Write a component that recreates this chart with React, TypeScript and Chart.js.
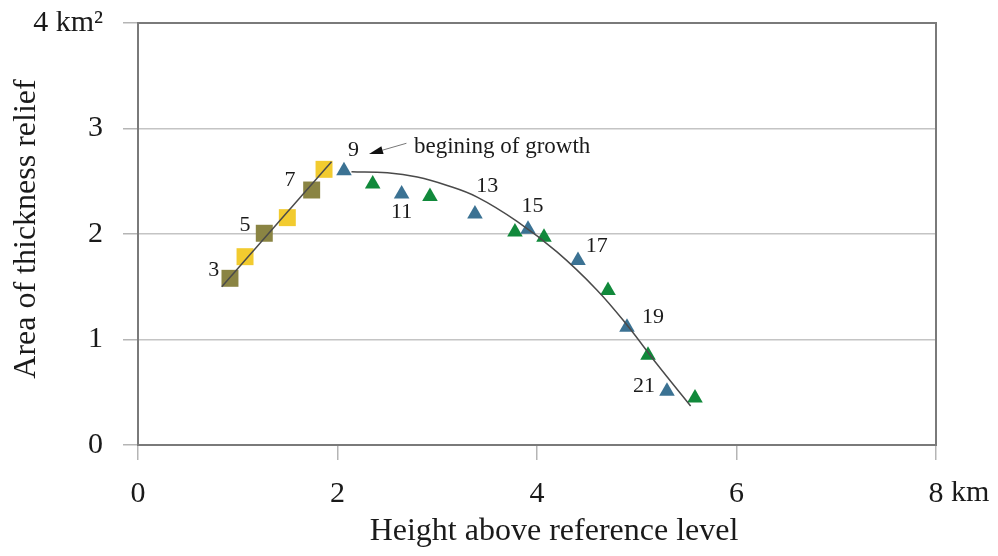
import React, { useEffect, useRef } from 'react';
import { Chart, registerables } from 'chart.js';

Chart.register(...registerables);

// ---- data ----
const oliveX = [0.922, 1.266, 1.741];
const oliveY = [1.58, 2.007, 2.417];
const yellowX = [1.073, 1.497, 1.865];
const yellowY = [1.785, 2.155, 2.613];

const blueX = [2.065, 2.643, 3.378, 3.91, 4.411, 4.902, 5.303];
const blueY = [2.6, 2.38, 2.19, 2.045, 1.75, 1.115, 0.51];
const greenX = [2.353, 2.927, 3.779, 4.07, 4.712, 5.113, 5.584];
const greenY = [2.475, 2.355, 2.02, 1.97, 1.465, 0.85, 0.445];

const lineX = [0.84, 1.94];
const lineY = [1.5, 2.685];

const curveX = [2.14, 2.5, 2.8, 3.1, 3.4, 3.8, 4.2, 4.6, 4.9, 5.2, 5.54];
const curveY = [2.59, 2.58, 2.54, 2.46, 2.35, 2.12, 1.83, 1.47, 1.14, 0.77, 0.37];

const pointLabelText = ['3', '5', '7', '9', '11', '13', '15', '17', '19', '21'];
const pointLabelX = [0.76, 1.073, 1.524, 2.16, 2.643, 3.5, 3.955, 4.6, 5.163, 5.073];
const pointLabelY = [1.66, 2.085, 2.512, 2.796, 2.209, 2.455, 2.26, 1.886, 1.215, 0.559];

const noteText = 'begining of growth';
const noteX = 2.767;
const noteY = 2.827;
const arrowFromX = 2.691;
const arrowFromY = 2.86;
const arrowToX = 2.316;
const arrowToY = 2.758;

const xTicks = [0, 2, 4, 6, 8];
const yTicks = [0, 1, 2, 3, 4];
const xUnit = 'km';
const yTopLabel = '4 km²';
const xTitle = 'Height above reference level';
const yTitle = 'Area of thickness relief';

const FONT = '"Liberation Serif", "Times New Roman", serif';
const TEXT = '#1a1a1a';

const pts = (xs: number[], ys: number[]) => xs.map((x, i) => ({ x, y: ys[i] }));

export default function App() {
  const ref = useRef<HTMLCanvasElement | null>(null);

  useEffect(() => {
    document.body.style.margin = '0';
    const canvas = ref.current;
    if (!canvas) return;

    const overlay = {
      id: 'overlay',
      afterDatasetsDraw(chart: any) {
        const ctx = chart.ctx;
        const xs = chart.scales.x;
        const ys = chart.scales.y;
        const ca = chart.chartArea;
        ctx.save();
        // frame
        ctx.strokeStyle = '#7a7a7a';
        ctx.lineWidth = 2;
        ctx.strokeRect(ca.left, ca.top, ca.right - ca.left, ca.bottom - ca.top);

        // point labels
        ctx.fillStyle = TEXT;
        ctx.font = `22px ${FONT}`;
        ctx.textAlign = 'center';
        ctx.textBaseline = 'middle';
        pointLabelText.forEach((t, i) => {
          ctx.fillText(t, xs.getPixelForValue(pointLabelX[i]), ys.getPixelForValue(pointLabelY[i]));
        });

        // note
        ctx.textAlign = 'left';
        ctx.font = `23px ${FONT}`;
        ctx.fillText(noteText, xs.getPixelForValue(noteX), ys.getPixelForValue(noteY));

        // arrow
        const x1 = xs.getPixelForValue(arrowFromX);
        const y1 = ys.getPixelForValue(arrowFromY);
        const x2 = xs.getPixelForValue(arrowToX);
        const y2 = ys.getPixelForValue(arrowToY);
        const ang = Math.atan2(y2 - y1, x2 - x1);
        const hl = 14;
        const hw = 4;
        const bx = x2 - Math.cos(ang) * hl;
        const by = y2 - Math.sin(ang) * hl;
        ctx.strokeStyle = '#777';
        ctx.lineWidth = 1;
        ctx.beginPath();
        ctx.moveTo(x1, y1);
        ctx.lineTo(bx, by);
        ctx.stroke();
        ctx.fillStyle = '#111';
        ctx.beginPath();
        ctx.moveTo(x2, y2);
        ctx.lineTo(bx + Math.sin(ang) * hw, by - Math.cos(ang) * hw);
        ctx.lineTo(bx - Math.sin(ang) * hw, by + Math.cos(ang) * hw);
        ctx.closePath();
        ctx.fill();

        // x unit after the last tick
        ctx.font = `30px ${FONT}`;
        ctx.fillStyle = TEXT;
        ctx.textAlign = 'left';
        ctx.textBaseline = 'middle';
        const lastX = xs.getPixelForValue(xTicks[xTicks.length - 1]);
        const w8 = ctx.measureText(String(xTicks[xTicks.length - 1])).width;
        ctx.fillText(' ' + xUnit, lastX + w8 / 2, ca.bottom + 48);

        // axis titles
        ctx.font = `32px ${FONT}`;
        ctx.textAlign = 'center';
        ctx.fillText(xTitle, (ca.left + ca.right) / 2 + 17, ca.bottom + 87);
        ctx.save();
        ctx.translate(27, (ca.top + ca.bottom) / 2 - 5);
        ctx.rotate(-Math.PI / 2);
        ctx.fillText(yTitle, 0, 0);
        ctx.restore();
        ctx.restore();
      },
    };

    const chart = new Chart(canvas, {
      type: 'scatter',
      data: {
        datasets: [
          {
            label: 'fit line',
            type: 'line',
            data: pts(lineX, lineY),
            borderColor: '#4a4a4a',
            borderWidth: 1.5,
            pointRadius: 0,
            fill: false,
            showLine: true,
            order: 0,
          },
          {
            label: 'fit curve',
            type: 'line',
            data: pts(curveX, curveY),
            borderColor: '#4a4a4a',
            borderWidth: 1.5,
            pointRadius: 0,
            tension: 0.4,
            fill: false,
            showLine: true,
            order: 0,
          },
          {
            label: 'olive',
            data: pts(oliveX, oliveY),
            pointStyle: 'rect',
            pointRadius: 12,
            backgroundColor: '#8a8443',
            borderColor: '#8a8443',
            borderWidth: 0,
            order: 1,
          },
          {
            label: 'yellow',
            data: pts(yellowX, yellowY),
            pointStyle: 'rect',
            pointRadius: 12,
            backgroundColor: '#f2cb2f',
            borderColor: '#f2cb2f',
            borderWidth: 0,
            order: 1,
          },
          {
            label: 'blue',
            data: pts(blueX, blueY),
            pointStyle: 'triangle',
            pointRadius: 9,
            backgroundColor: '#3b7293',
            borderColor: '#3b7293',
            borderWidth: 0,
            order: 1,
          },
          {
            label: 'green',
            data: pts(greenX, greenY),
            pointStyle: 'triangle',
            pointRadius: 9,
            backgroundColor: '#11893b',
            borderColor: '#11893b',
            borderWidth: 0,
            order: 1,
          },
        ],
      },
      options: {
        animation: false,
        responsive: false,
        maintainAspectRatio: false,
        layout: { padding: { top: 23, right: 62, bottom: 0, left: 0 } },
        plugins: {
          legend: { display: false },
          tooltip: { enabled: false },
        },
        scales: {
          x: {
            type: 'linear',
            min: 0,
            max: 8,
            afterBuildTicks: (s: any) => {
              s.ticks = xTicks.map((v) => ({ value: v }));
            },
            afterFit: (s: any) => {
              s.height = 111;
              s.paddingLeft = 0;
              s.paddingRight = 0;
            },
            ticks: {
              color: TEXT,
              font: { family: FONT, size: 30 },
              padding: 16,
              maxRotation: 0,
              callback: (v: any) => String(v),
            },
            grid: {
              drawOnChartArea: false,
              drawTicks: true,
              tickLength: 15,
              tickColor: '#b5b5b5',
              lineWidth: 1.5,
            },
            border: { display: true, color: '#7a7a7a', width: 2 },
            title: { display: false, text: xTitle },
          },
          y: {
            type: 'linear',
            min: 0,
            max: 4,
            afterBuildTicks: (s: any) => {
              s.ticks = yTicks.map((v) => ({ value: v }));
            },
            afterFit: (s: any) => {
              s.width = 138;
              s.paddingTop = 0;
              s.paddingBottom = 0;
            },
            ticks: {
              color: TEXT,
              font: { family: FONT, size: 30 },
              padding: 20,
              callback: (v: any) => (v === yTicks[yTicks.length - 1] ? yTopLabel : String(v)),
            },
            grid: {
              drawOnChartArea: true,
              drawTicks: true,
              tickLength: 15,
              color: '#c4c4c4',
              tickColor: '#b5b5b5',
              lineWidth: 1.5,
            },
            border: { display: true, color: '#7a7a7a', width: 2 },
            title: { display: false, text: yTitle },
          },
        },
      },
      plugins: [overlay],
    } as any);

    return () => chart.destroy();
  }, []);

  return (
    <div style={{ width: 998, height: 556, position: 'relative' }}>
      <canvas ref={ref} width={998} height={556} style={{ display: 'block', width: 998, height: 556 }} />
    </div>
  );
}
